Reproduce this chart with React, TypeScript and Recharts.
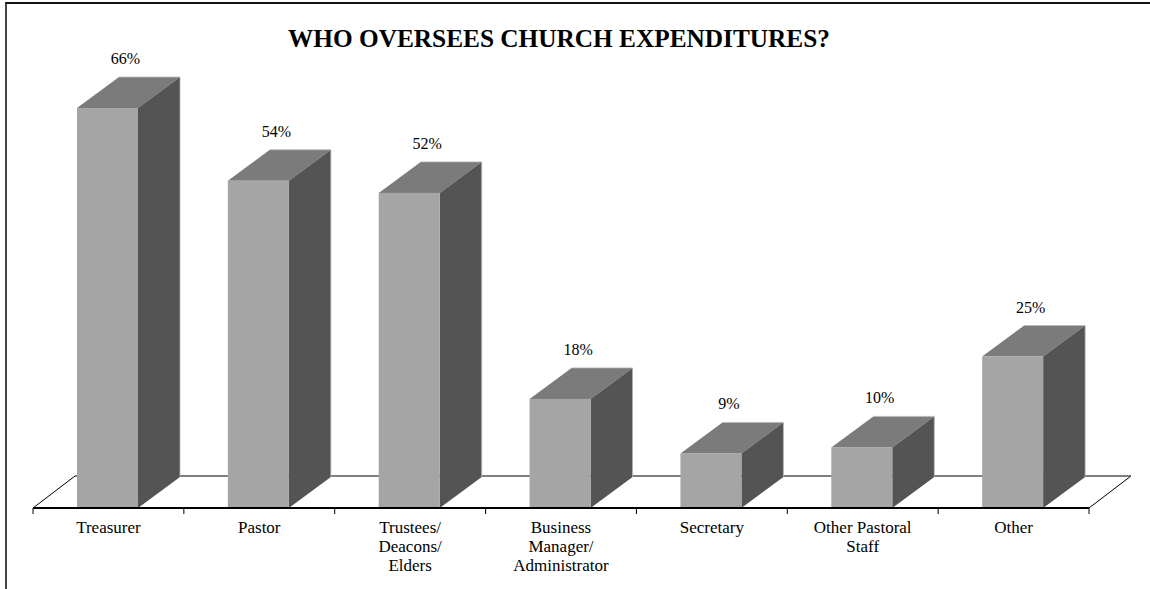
import React from "react";
import { BarChart, Bar, XAxis, YAxis, LabelList, usePlotArea } from "recharts";

const categories = ["Treasurer", "Pastor", "Trustees/ Deacons/ Elders", "Business Manager/ Administrator", "Secretary", "Other Pastoral Staff", "Other"];
const tickLines: string[][] = [["Treasurer"], ["Pastor"], ["Trustees/", "Deacons/", "Elders"], ["Business", "Manager/", "Administrator"], ["Secretary"], ["Other Pastoral", "Staff"], ["Other"]];
const percentages = [66, 54, 52, 18, 9, 10, 25];

const rows = categories.map((name, i) => ({ name, value: percentages[i], lines: tickLines[i] }));

const SERIF = '"Liberation Serif", "Times New Roman", serif';
const DEPTH_X = 42;
const DEPTH_Y = 31;
const FLOOR_DEPTH_Y = 32;

// The floor of the 3D scene: two black side edges, a grey back edge,
// and tick marks on the category boundaries.
const Floor = () => {
  const area = usePlotArea();
  if (!area) return null;
  const left = area.x;
  const right = area.x + area.width;
  const base = area.y + area.height;
  const back = base - FLOOR_DEPTH_Y;
  const step = area.width / categories.length;
  return (
    <g fill="none">
      <path d={`M${left},${base} L${left + DEPTH_X},${back}`} stroke="#000" strokeWidth={1} />
      <path d={`M${right},${base} L${right + DEPTH_X},${back}`} stroke="#000" strokeWidth={1} />
      <path d={`M${left + DEPTH_X},${back} L${right + DEPTH_X},${back}`} stroke="#555" strokeWidth={1.5} />
      {[...categories, "end"].map((c, i) => (
        <line key={c} x1={left + i * step} x2={left + i * step} y1={base} y2={base + 6} stroke="#000" strokeWidth={1} />
      ))}
    </g>
  );
};

const Box = (props: any) => {
  const { y, width, height } = props;
  const x = props.x - 1;
  const r = x + width;
  const b = y + height;
  return (
    <g shapeRendering="geometricPrecision">
      <path d={`M${x},${y} L${x + DEPTH_X},${y - DEPTH_Y} L${r + DEPTH_X},${y - DEPTH_Y} L${r},${y} Z`} fill="#7b7b7b" />
      <path d={`M${r},${y} L${r + DEPTH_X},${y - DEPTH_Y} L${r + DEPTH_X},${b - DEPTH_Y} L${r},${b} Z`} fill="#545454" />
      <rect x={x} y={y} width={width} height={height} fill="#a5a5a5" />
      <path
        d={`M${x + DEPTH_X},${y - DEPTH_Y} L${r + DEPTH_X},${y - DEPTH_Y} L${r + DEPTH_X},${b - DEPTH_Y}`}
        fill="none"
        stroke="#b8b8b8"
        strokeWidth={0.8}
      />
    </g>
  );
};

const PercentLabel = (props: any) => {
  const { x, y, width, value } = props;
  return (
    <text x={x + width / 2 + 17} y={y - 44} textAnchor="middle" fontFamily={SERIF} fontSize={16} fill="#000">
      {value}%
    </text>
  );
};

const CategoryTick = (props: any) => {
  const { x, y, index } = props;
  return (
    <text textAnchor="middle" fontFamily={SERIF} fontSize={17} fill="#000">
      {tickLines[index].map((line, i) => (
        <tspan key={line} x={x} y={y + 17 + i * 19}>
          {line}
        </tspan>
      ))}
    </text>
  );
};

export default function App() {
  return (
    <div style={{ position: "absolute", left: 0, top: 0, width: 1150, height: 589, background: "#fff", overflow: "hidden" }}>
      <div style={{ position: "absolute", left: 5, top: 2, width: 1145, height: 587, borderLeft: "2px solid #444", borderTop: "2px solid #111", boxSizing: "border-box" }} />
      <div style={{ position: "absolute", left: 0, top: 23, width: 1118, textAlign: "center", fontFamily: SERIF, fontWeight: "bold", fontSize: 25.3, lineHeight: "30px", color: "#000" }}>
        WHO OVERSEES CHURCH EXPENDITURES?
      </div>
      <div style={{ position: "absolute", left: 0, top: 0 }}>
        <BarChart
          width={1150}
          height={589}
          data={rows}
          margin={{ top: 0, right: 61, bottom: 0, left: 33 }}
          barCategoryGap={45}
          style={{ background: "transparent" }}
        >
          <Floor />
          <XAxis
            dataKey="name"
            interval={0}
            tick={<CategoryTick />}
            tickLine={false}
            axisLine={{ stroke: "#000", strokeWidth: 2 }}
            height={81}
          />
          <YAxis hide domain={[0, 508 / 6.06]} />
          <Bar dataKey="value" shape={<Box />} isAnimationActive={false}>
            <LabelList dataKey="value" content={<PercentLabel />} />
          </Bar>
        </BarChart>
      </div>
    </div>
  );
}
